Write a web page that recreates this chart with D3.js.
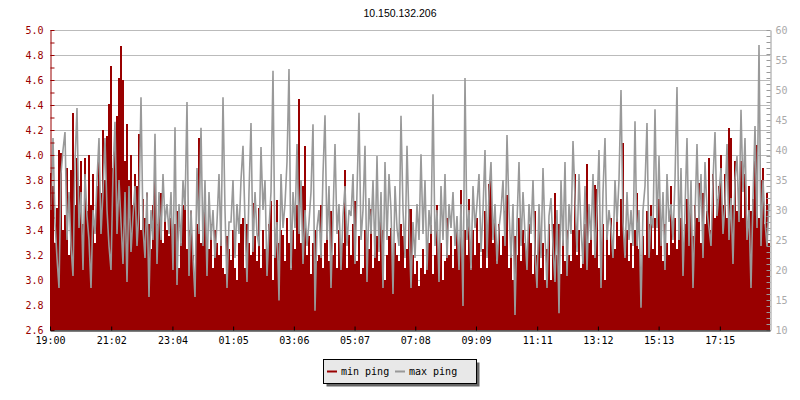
<!DOCTYPE html>
<html>
<head>
<meta charset="utf-8">
<script src="https://cdn.jsdelivr.net/npm/d3@7"></script>
<style>
body { margin: 0; background: #fff; }
svg { display: block; }
</style>
</head>
<body>
<script>
// ping samples, one every ~4 minutes from 19:00
var minPing = [
  3.86, 3.75, 3.30, 3.58, 4.04, 4.02, 3.40, 3.52, 3.90, 3.20,
  3.88, 4.34, 3.60, 3.98, 3.75, 3.95, 3.45, 3.98, 3.55, 4.00,
  3.60, 3.85, 3.30, 3.75, 4.00, 3.70, 4.20, 3.80, 4.15, 4.41,
  4.71, 3.90, 4.10, 4.31, 4.62, 4.87, 4.60, 3.95, 4.25, 3.80,
  4.00, 3.60, 3.85, 3.75, 4.17, 3.40, 3.65, 3.50, 3.70, 3.45,
  3.25, 3.60, 3.90, 3.45, 3.55, 3.70, 3.30, 3.55, 3.40, 3.35,
  3.50, 3.20, 3.45, 3.55, 3.10, 3.30, 3.60, 3.70, 3.25, 3.40,
  3.55, 3.20, 3.00, 3.45, 4.14, 3.30, 3.45, 3.60, 3.15, 3.25,
  3.45, 3.10, 3.40, 3.30, 3.20, 3.45, 3.10, 3.05, 3.35, 3.25,
  3.16, 3.40, 3.10, 3.00, 3.30, 3.45, 3.50, 3.10, 3.45, 3.30,
  3.20, 3.62, 3.35, 3.15, 3.58, 3.10, 3.40, 3.25, 3.20, 3.45,
  3.63, 3.00, 3.20, 3.64, 3.30, 3.40, 3.36, 3.15, 3.50, 3.30,
  3.10, 3.40, 3.25, 3.60, 4.45, 3.30, 3.75, 4.07, 3.20, 3.35,
  3.05, 3.30, 3.40, 3.15, 3.20, 3.60, 3.10, 3.30, 3.45, 3.15,
  3.55, 3.20, 3.30, 3.10, 3.40, 3.25, 3.30, 3.88, 3.10, 3.36,
  3.20, 3.45, 3.63, 3.15, 3.35, 3.05, 3.10, 3.40, 3.20, 3.25,
  3.57, 3.10, 3.30, 3.35, 3.15, 3.63, 3.40, 3.00, 3.20, 3.35,
  3.42, 3.10, 3.30, 3.20, 3.15, 3.45, 3.35, 3.10, 3.25, 3.57,
  3.57, 3.20, 3.05, 3.15, 2.95, 3.10, 3.25, 3.05, 3.15, 3.30,
  3.44, 3.05, 3.20, 3.60, 3.10, 3.30, 3.00, 3.15, 3.50, 3.20,
  3.35, 3.10, 3.25, 3.40, 3.20, 3.72, 3.15, 3.40, 3.20, 3.65,
  3.10, 3.40, 3.20, 3.50, 3.30, 3.10, 3.25, 3.55, 3.10, 3.77,
  3.86, 3.30, 3.50, 3.15, 3.45, 3.20, 3.35, 3.55, 3.68, 3.10,
  3.25, 3.00, 3.35, 3.20, 3.50, 3.15, 3.40, 3.30, 3.15, 3.45,
  3.30, 3.05, 3.55, 3.20, 3.40, 3.10, 3.30, 3.00, 3.25, 3.45,
  3.00, 3.45, 3.70, 3.20, 3.45, 3.05, 3.35, 3.15, 3.40, 3.20,
  3.15, 3.40, 3.85, 3.20, 3.40, 3.10, 3.25, 3.45, 3.93, 3.30,
  3.45, 3.20, 3.76, 3.73, 3.10, 3.30, 3.45, 3.00, 3.40, 3.20,
  3.50, 3.30, 3.25, 3.55, 3.35, 3.65, 4.10, 3.20, 3.40, 3.15,
  3.30, 3.10, 3.40, 3.70, 3.25, 3.00, 3.35, 3.20, 3.55, 3.45,
  3.60, 3.25, 3.50, 3.20, 3.65, 3.40, 3.15, 3.45, 3.30, 3.20,
  3.75, 3.30, 3.50, 3.25, 3.40, 3.50, 3.30, 3.45, 3.65, 3.40,
  3.55, 3.35, 3.60, 3.50, 3.78, 3.30, 3.70, 3.45, 3.55, 3.98,
  3.40, 3.85, 3.50, 3.65, 3.75, 4.00, 3.60, 3.85, 3.50, 4.22,
  4.14, 3.60, 3.95, 3.55, 3.70, 3.95, 3.50, 3.85, 3.40, 3.75,
  3.55, 3.65, 3.95, 4.08, 3.50, 3.80, 3.90, 3.45, 3.70, 3.30
];

var maxPing = [
  30, 42, 28, 22, 17, 36, 40, 43, 25, 33,
  24, 19, 38, 47, 27, 33, 20, 36, 29, 25,
  17, 30, 26, 35, 42, 26, 33, 42, 30, 24,
  20, 36, 44.7, 26, 35, 28, 21, 33, 18, 34,
  23, 29, 34, 24, 30, 48.8, 27, 22, 33, 15.5,
  30, 25, 42.7, 21, 33, 25, 36, 28, 31, 26,
  33, 20, 43.8, 17.5, 31, 24, 35, 30, 48, 19,
  30, 22, 15.5, 37, 26, 43.7, 24, 35, 19, 33,
  25, 30, 22, 28, 36, 24, 48.8, 30, 17, 28,
  28, 35, 22, 31, 26, 35, 40.7, 28, 18, 33,
  44.5, 23, 33, 26, 24, 40.5, 30, 35, 19, 27,
  33, 53.2, 22, 28, 14.9, 36, 27, 31, 38, 53.5,
  20, 33, 27, 41, 26, 35, 21, 30, 24, 28,
  33, 44.3, 13.2, 27, 30, 22, 36, 45.8, 25, 34,
  17, 29, 41, 26, 31, 20, 29, 34, 24, 30,
  29, 36, 21, 33, 46.2, 25, 30, 40.7, 18, 32,
  26, 35, 22, 39, 23, 33, 17, 38, 25, 36,
  30, 16, 34, 27, 24, 45.7, 30, 22, 40.7, 28,
  17, 28, 22, 31, 25, 39.3, 26, 35, 20, 30,
  26, 49.3, 24, 30, 18, 34, 25, 36, 22, 31,
  27, 33, 24, 29, 20, 31, 14, 52, 25, 30,
  20, 34, 27, 31, 36, 23, 30, 40, 22, 33,
  38, 25, 31, 21, 27, 30, 35, 24, 42.5, 30,
  22, 31, 12.5, 28, 38, 24, 33, 26, 20, 31,
  26, 35, 23, 17, 31, 22, 37, 26, 17, 29,
  32, 24, 18, 30, 12.8, 35, 24, 38, 19, 31,
  26, 41.5, 32, 23, 36, 27, 21, 34, 20, 31,
  25, 36, 22, 30, 40, 17, 33, 42, 25, 30,
  27, 22, 35, 28, 35, 50, 28, 22, 33, 25,
  30, 24, 44.8, 24, 30, 13.7, 30, 34, 44.5, 22,
  29, 27, 46.8, 27, 39, 24, 33, 20, 36, 28,
  31, 25, 35, 50.5, 25, 37, 19, 30, 42, 24,
  35, 17, 29, 41, 28, 36, 22, 38, 30, 27,
  24, 35, 43, 29, 33, 37, 26, 31, 41, 25,
  32, 21, 35, 39, 28, 46.7, 33, 42, 25, 30,
  17, 32, 44, 27, 57.5, 24, 35, 28, 24, 31
];

var xTickLabels = ["19:00", "21:02", "23:04", "01:05", "03:06", "05:07",
                   "07:08", "09:09", "11:11", "13:12", "15:13", "17:15"];
var minTicks = [2.6, 2.8, 3.0, 3.2, 3.4, 3.6, 3.8, 4.0, 4.2, 4.4, 4.6, 4.8, 5.0];
var maxTicks = [10, 15, 20, 25, 30, 35, 40, 45, 50, 55, 60];
var legendNames = ["min ping", "max ping"];
var title = "10.150.132.206";

var W = 800, H = 400;
var plotL = 50, plotR = 770, plotT = 30, plotB = 330;
var span = 1435; // minutes covered by the plot
var red = "#990000", grey = "#999999";

// minutes after 19:00 for each tick label
var tickMins = xTickLabels.map(function(s) {
  var p = s.split(":");
  var m = (+p[0]) * 60 + (+p[1]) - 19 * 60;
  if (m < 0) m += 1440;
  return m;
});

var svg = d3.select("body").append("svg")
  .attr("width", W).attr("height", H)
  .style("font-family", "'DejaVu Sans Mono', monospace")
  .style("font-size", "10px");

var x = d3.scaleLinear().domain([0, span]).range([plotL, plotR]);
var yL = d3.scaleLinear().domain([2.6, 5.0]).range([plotB, plotT]);
var yR = d3.scaleLinear().domain([10, 60]).range([plotB, plotT]);

var n = minPing.length;
var dt = span / n;

// title
svg.append("text")
  .attr("x", 400).attr("y", 17)
  .attr("text-anchor", "middle")
  .style("font-family", "'Liberation Sans', Arial, sans-serif")
  .style("font-size", "10.5px")
  .attr("fill", "#000")
  .text(title);

// grid
svg.append("g").selectAll("line")
  .data(minTicks)
  .enter().append("line")
  .attr("x1", plotL).attr("x2", plotR)
  .attr("y1", function(d) { return Math.round(yL(d)) + 0.5; })
  .attr("y2", function(d) { return Math.round(yL(d)) + 0.5; })
  .attr("stroke", "#bbbbbb");

// min ping area
var minPts = minPing.map(function(v, i) { return [i * dt, v]; });
minPts.push([span, minPing[n - 1]]);
var area = d3.area()
  .curve(d3.curveStepAfter)
  .x(function(d) { return x(d[0]); })
  .y0(plotB)
  .y1(function(d) { return yL(d[1]); });
svg.append("path").datum(minPts)
  .attr("d", area)
  .attr("fill", red)
  .attr("shape-rendering", "crispEdges");

// max ping line
var maxPts = maxPing.map(function(v, i) { return [(i + 0.5) * dt, v]; });
var line = d3.line()
  .x(function(d) { return x(d[0]); })
  .y(function(d) { return yR(d[1]); });
svg.append("path").datum(maxPts)
  .attr("d", line)
  .attr("fill", "none")
  .attr("stroke", grey)
  .attr("stroke-width", 1.6)
  .attr("stroke-linejoin", "miter")
  .attr("stroke-miterlimit", 2);

// left axis
var leftVals = d3.range(26, 51).map(function(d) { return d / 10; });
var leftAxis = d3.axisLeft(yL)
  .tickValues(leftVals)
  .tickSizeInner(-4).tickSizeOuter(0).tickPadding(7)
  .tickFormat(function(d) {
    return minTicks.some(function(t) { return Math.abs(t - d) < 1e-6; }) ? d.toFixed(1) : "";
  });
var gl = svg.append("g").attr("transform", "translate(" + (plotL + 0.5) + ",0)").call(leftAxis);
gl.selectAll("path,line").attr("stroke", red);
gl.selectAll("text").attr("fill", red);
gl.attr("font-family", null).attr("font-size", null);

// right axis
var rightVals = d3.range(10, 61);
var rightAxis = d3.axisRight(yR)
  .tickValues(rightVals)
  .tickSizeInner(-4).tickSizeOuter(0).tickPadding(5)
  .tickFormat(function(d) { return maxTicks.indexOf(d) >= 0 ? d : ""; });
var gr = svg.append("g").attr("transform", "translate(" + (plotR + 0.5) + ",0)").call(rightAxis);
gr.selectAll("path,line").attr("stroke", grey);
gr.selectAll("text").attr("fill", "#aaaaaa");
gr.attr("font-family", null).attr("font-size", null);

// bottom axis
var bottomAxis = d3.axisBottom(x)
  .tickValues(tickMins)
  .tickSizeInner(-4).tickSizeOuter(0).tickPadding(6)
  .tickFormat(function(d, i) { return xTickLabels[i]; });
var gb = svg.append("g").attr("transform", "translate(0," + (plotB + 0.5) + ")").call(bottomAxis);
gb.selectAll("path,line").attr("stroke", "#000");
gb.selectAll("text").attr("fill", "#000");
gb.attr("font-family", null).attr("font-size", null);

// legend
var lg = svg.append("g").attr("transform", "translate(323,359)");
lg.append("rect").attr("x", 3.5).attr("y", 3.5).attr("width", 153).attr("height", 24).attr("fill", "#666666");
lg.append("rect").attr("x", 0.5).attr("y", 0.5).attr("width", 153).attr("height", 24)
  .attr("fill", "#e8e8e8").attr("stroke", "#000");
var items = lg.selectAll("g.item")
  .data(legendNames)
  .enter().append("g")
  .attr("transform", function(d, i) { return "translate(" + (4 + i * 68) + ",0)"; });
items.append("line")
  .attr("x1", 0).attr("x2", 10).attr("y1", 12.5).attr("y2", 12.5)
  .attr("stroke-width", 2)
  .attr("stroke", function(d, i) { return i === 0 ? red : grey; });
items.append("text")
  .attr("x", 14).attr("y", 16)
  .attr("fill", "#000")
  .text(function(d) { return d; });
</script>
</body>
</html>
